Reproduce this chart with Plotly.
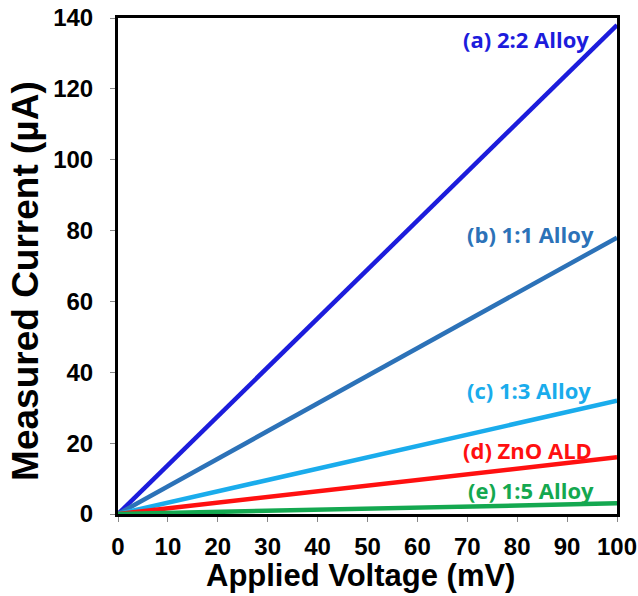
import plotly.graph_objects as go

voltage = [0, 100]
series_names = ["(a) 2:2 Alloy", "(b) 1:1 Alloy", "(c) 1:3 Alloy", "(d) ZnO ALD", "(e) 1:5 Alloy"]
currents = {
    "(a) 2:2 Alloy": [0, 138],
    "(b) 1:1 Alloy": [0, 78],
    "(c) 1:3 Alloy": [0, 32],
    "(d) ZnO ALD": [0, 16],
    "(e) 1:5 Alloy": [0, 3],
}
colors = ["#1c1cdc", "#2c72b8", "#1aacec", "#ff1010", "#14a850"]
label_x = [94.8, 95.8, 95.2, 95.4, 95.8]
label_y = [134.0, 79.0, 35.0, 18.2, 6.8]
x_ticks = list(range(0, 101, 10))
y_ticks = list(range(0, 141, 20))

fig = go.Figure()
for name, c in zip(series_names, colors):
    fig.add_trace(go.Scatter(x=voltage, y=currents[name], mode="lines",
                             line=dict(color=c, width=4.5), showlegend=False,
                             cliponaxis=False))

for name, c, lx, ly in zip(series_names, colors, label_x, label_y):
    fig.add_annotation(x=lx, y=ly, text="<b>%s</b>" % name, showarrow=False,
                       xanchor="right", yanchor="middle",
                       font=dict(family="Open Sans", size=22, color=c))

# axis titles
fig.add_annotation(xref="paper", yref="paper", x=0.485, y=0, yshift=-61,
                   text="<b>Applied Voltage (mV)</b>", showarrow=False,
                   xanchor="center", yanchor="middle",
                   font=dict(family="Liberation Sans", size=31, color="black"))
fig.add_annotation(xref="paper", yref="paper", x=0, xshift=-92, y=0.47,
                   text="<b>Measured Current (µA)</b>", showarrow=False, textangle=-90,
                   xanchor="center", yanchor="middle",
                   font=dict(family="Liberation Sans", size=37, color="black"))

axis_common = dict(showgrid=False, zeroline=False, showline=True, linecolor="black",
                   linewidth=3, mirror=True, ticks="outside", ticklen=5,
                   tickcolor="#888888", tickwidth=1, automargin=False,
                   tickfont=dict(family="Liberation Sans", size=24, color="black"))

fig.update_xaxes(range=[0, 100], tickvals=x_ticks, ticktext=["<b>%d</b>" % v for v in x_ticks],
                 ticklabelstandoff=4, **axis_common)
fig.update_yaxes(range=[0, 140], tickvals=y_ticks, ticktext=["<b>%d</b>" % v for v in y_ticks],
                 ticklabelstandoff=12, **axis_common)

fig.update_layout(width=638, height=596, margin=dict(l=118, r=21, t=18, b=82),
                  plot_bgcolor="white", paper_bgcolor="white")

fig.write_html("out.html", config={"displayModeBar": False},
               post_script="document.body.style.margin='0';")
